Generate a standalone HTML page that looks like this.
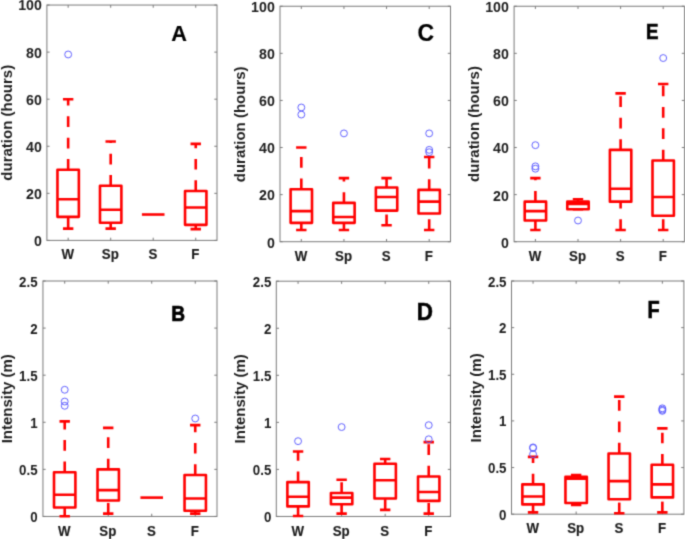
<!DOCTYPE html>
<html lang="en"><head><meta charset="utf-8"><title>Box plots</title>
<style>
html,body{margin:0;padding:0;background:#fff;}
svg{display:block;}
text{font-family:"Liberation Sans",sans-serif;font-weight:bold;}
.t{font-size:14.2px;fill:#1c1c1c;}
.t2{font-size:13.3px;fill:#1c1c1c;}
.c{font-size:13.3px;fill:#1c1c1c;stroke:#1c1c1c;stroke-width:0.15;}
.yl{font-size:15px;fill:#1c1c1c;}
.L{fill:#000;}
.ax{fill:none;stroke:#7a7a7a;stroke-width:1;}
.bx{fill:none;stroke:#ff0000;stroke-width:2.6;stroke-linejoin:round;}
.wh{fill:none;stroke:#ff0000;stroke-width:2.6;stroke-dasharray:10.7 10.7;}
.cp{fill:none;stroke:#ff0000;stroke-width:2.6;}
.o{fill:none;stroke:#5a5aff;stroke-width:0.95;}
</style></head>
<body>
<svg width="685" height="539" viewBox="0 0 685 539">
<rect width="685" height="539" fill="#fff"/>
<defs><filter id="soft" x="0" y="0" width="685" height="539" filterUnits="userSpaceOnUse" color-interpolation-filters="sRGB"><feConvolveMatrix order="3" kernelMatrix="0.0256 0.1088 0.0256 0.1088 0.4624 0.1088 0.0256 0.1088 0.0256" edgeMode="none" preserveAlpha="false"/></filter></defs>
<g id="fig" filter="url(#soft)">
<g id="panel-A">
<rect class="ax" x="46.9" y="5.05" width="170.1" height="235.35"/>
<path class="ax" d="M46.9 240.4h2.7M217 240.4h-2.7M46.9 193.33h2.7M217 193.33h-2.7M46.9 146.26h2.7M217 146.26h-2.7M46.9 99.19h2.7M217 99.19h-2.7M46.9 52.12h2.7M217 52.12h-2.7M46.9 5.05h2.7M217 5.05h-2.7M68.16 240.4v-2.7M68.16 5.05v2.7M110.69 240.4v-2.7M110.69 5.05v2.7M153.21 240.4v-2.7M153.21 5.05v2.7M195.74 240.4v-2.7M195.74 5.05v2.7"/>
<text class="t" transform="translate(41.9 246.3) scale(1 1.08)" text-anchor="end">0</text>
<text class="t" transform="translate(41.9 199.11) scale(1 1.08)" text-anchor="end">20</text>
<text class="t" transform="translate(41.9 151.92) scale(1 1.08)" text-anchor="end">40</text>
<text class="t" transform="translate(41.9 104.73) scale(1 1.08)" text-anchor="end">60</text>
<text class="t" transform="translate(41.9 57.54) scale(1 1.08)" text-anchor="end">80</text>
<text class="t" transform="translate(41.9 10.35) scale(1 1.08)" text-anchor="end">100</text>
<text class="c" transform="translate(67.76 259.2) scale(1 1.06)" text-anchor="middle">W</text>
<text class="c" transform="translate(110.29 259.2) scale(1 1.06)" text-anchor="middle">Sp</text>
<text class="c" transform="translate(152.81 259.2) scale(1 1.06)" text-anchor="middle">S</text>
<text class="c" transform="translate(195.34 259.2) scale(1 1.06)" text-anchor="middle">F</text>
<text class="yl" transform="translate(12.2 122.73) rotate(-90)" text-anchor="middle">duration (hours)</text>
<text class="L" transform="translate(179.2 41) scale(1 1)" text-anchor="middle" font-size="21.7" stroke="#000" stroke-width="0.2">A</text>
<path class="wh" d="M68.16 169.8V99.19"/>
<path class="wh" d="M68.16 228.63V216.87"/>
<path class="cp" d="M62.96 99.19h10.4M62.96 228.63h10.4"/>
<path class="bx" d="M57.46 216.87H78.86V169.8H57.46ZM57.46 199.21H78.86"/>
<circle class="o" cx="68.16" cy="54.47" r="3.45"/>
<path class="wh" d="M110.69 185.8V141.55"/>
<path class="wh" d="M110.69 228.63V222.75"/>
<path class="cp" d="M105.49 141.55h10.4M105.49 228.63h10.4"/>
<path class="bx" d="M99.99 222.75H121.39V185.8H99.99ZM99.99 209.8H121.39"/>
<path class="cp" d="M141.91 214.51h22.6"/>
<path class="wh" d="M195.74 190.98V143.91"/>
<path class="wh" d="M195.74 229.1V224.87"/>
<path class="cp" d="M190.54 143.91h10.4M190.54 229.1h10.4"/>
<path class="bx" d="M185.04 224.87H206.44V190.98H185.04ZM185.04 207.45H206.44"/>
</g>
<g id="panel-C">
<rect class="ax" x="280" y="6.25" width="170.5" height="235.45"/>
<path class="ax" d="M280 241.7h2.7M450.5 241.7h-2.7M280 194.61h2.7M450.5 194.61h-2.7M280 147.52h2.7M450.5 147.52h-2.7M280 100.43h2.7M450.5 100.43h-2.7M280 53.34h2.7M450.5 53.34h-2.7M280 6.25h2.7M450.5 6.25h-2.7M301.31 241.7v-2.7M301.31 6.25v2.7M343.94 241.7v-2.7M343.94 6.25v2.7M386.56 241.7v-2.7M386.56 6.25v2.7M429.19 241.7v-2.7M429.19 6.25v2.7"/>
<text class="t" transform="translate(274.8 247.7) scale(1 1.08)" text-anchor="end">0</text>
<text class="t" transform="translate(274.8 200.49) scale(1 1.08)" text-anchor="end">20</text>
<text class="t" transform="translate(274.8 153.28) scale(1 1.08)" text-anchor="end">40</text>
<text class="t" transform="translate(274.8 106.07) scale(1 1.08)" text-anchor="end">60</text>
<text class="t" transform="translate(274.8 58.86) scale(1 1.08)" text-anchor="end">80</text>
<text class="t" transform="translate(274.8 11.65) scale(1 1.08)" text-anchor="end">100</text>
<text class="c" transform="translate(300.91 260.8) scale(1 1.06)" text-anchor="middle">W</text>
<text class="c" transform="translate(343.54 260.8) scale(1 1.06)" text-anchor="middle">Sp</text>
<text class="c" transform="translate(386.16 260.8) scale(1 1.06)" text-anchor="middle">S</text>
<text class="c" transform="translate(428.79 260.8) scale(1 1.06)" text-anchor="middle">F</text>
<text class="yl" transform="translate(245.4 124.3) rotate(-90)" text-anchor="middle">duration (hours)</text>
<text class="L" transform="translate(425.75 40.7) scale(1 1)" text-anchor="middle" font-size="23" stroke="#000" stroke-width="0.2">C</text>
<path class="wh" d="M301.31 189.19V147.52"/>
<path class="wh" d="M301.31 229.93V222.86"/>
<path class="cp" d="M296.11 147.52h10.4M296.11 229.93h10.4"/>
<path class="bx" d="M290.61 222.86H312.01V189.19H290.61ZM290.61 211.09H312.01"/>
<circle class="o" cx="301.31" cy="114.56" r="3.45"/>
<circle class="o" cx="301.31" cy="107.49" r="3.45"/>
<path class="wh" d="M343.94 202.85V178.13"/>
<path class="wh" d="M343.94 229.93V222.86"/>
<path class="cp" d="M338.74 178.13h10.4M338.74 229.93h10.4"/>
<path class="bx" d="M333.24 222.86H354.64V202.85H333.24ZM333.24 216.98H354.64"/>
<circle class="o" cx="343.94" cy="133.39" r="3.45"/>
<path class="wh" d="M386.56 187.55V178.13"/>
<path class="wh" d="M386.56 225.22V210.62"/>
<path class="cp" d="M381.36 178.13h10.4M381.36 225.22h10.4"/>
<path class="bx" d="M375.86 210.62H397.26V187.55H375.86ZM375.86 196.96H397.26"/>
<path class="wh" d="M429.19 189.9V156.94"/>
<path class="wh" d="M429.19 229.93V213.45"/>
<path class="cp" d="M423.99 156.94h10.4M423.99 229.93h10.4"/>
<path class="bx" d="M418.49 213.45H439.89V189.9H418.49ZM418.49 201.67H439.89"/>
<circle class="o" cx="429.19" cy="152.23" r="3.45"/>
<circle class="o" cx="429.19" cy="149.87" r="3.45"/>
<circle class="o" cx="429.19" cy="133.39" r="3.45"/>
</g>
<g id="panel-E">
<rect class="ax" x="514.1" y="6.25" width="170.4" height="235.45"/>
<path class="ax" d="M514.1 241.7h2.7M684.5 241.7h-2.7M514.1 194.61h2.7M684.5 194.61h-2.7M514.1 147.52h2.7M684.5 147.52h-2.7M514.1 100.43h2.7M684.5 100.43h-2.7M514.1 53.34h2.7M684.5 53.34h-2.7M514.1 6.25h2.7M684.5 6.25h-2.7M535.4 241.7v-2.7M535.4 6.25v2.7M578 241.7v-2.7M578 6.25v2.7M620.6 241.7v-2.7M620.6 6.25v2.7M663.2 241.7v-2.7M663.2 6.25v2.7"/>
<text class="t" transform="translate(508.9 247.8) scale(1 1.08)" text-anchor="end">0</text>
<text class="t" transform="translate(508.9 200.57) scale(1 1.08)" text-anchor="end">20</text>
<text class="t" transform="translate(508.9 153.34) scale(1 1.08)" text-anchor="end">40</text>
<text class="t" transform="translate(508.9 106.11) scale(1 1.08)" text-anchor="end">60</text>
<text class="t" transform="translate(508.9 58.88) scale(1 1.08)" text-anchor="end">80</text>
<text class="t" transform="translate(508.9 11.65) scale(1 1.08)" text-anchor="end">100</text>
<text class="c" transform="translate(535 260.5) scale(1 1.06)" text-anchor="middle">W</text>
<text class="c" transform="translate(577.6 260.5) scale(1 1.06)" text-anchor="middle">Sp</text>
<text class="c" transform="translate(620.2 260.5) scale(1 1.06)" text-anchor="middle">S</text>
<text class="c" transform="translate(662.8 260.5) scale(1 1.06)" text-anchor="middle">F</text>
<text class="yl" transform="translate(479.4 123.97) rotate(-90)" text-anchor="middle">duration (hours)</text>
<text class="L" transform="translate(652.3 39) scale(0.84 1)" text-anchor="middle" font-size="22.3" stroke="#000" stroke-width="0.7">E</text>
<path class="wh" d="M535.4 201.67V178.13"/>
<path class="wh" d="M535.4 229.93V220.51"/>
<path class="cp" d="M530.2 178.13h10.4M530.2 229.93h10.4"/>
<path class="bx" d="M524.7 220.51H546.1V201.67H524.7ZM524.7 211.09H546.1"/>
<circle class="o" cx="535.4" cy="168.71" r="3.45"/>
<circle class="o" cx="535.4" cy="166.36" r="3.45"/>
<circle class="o" cx="535.4" cy="145.17" r="3.45"/>
<path class="wh" d="M578 201.67V199.32"/>
<path class="wh" d="M578 209.21V209.21"/>
<path class="cp" d="M572.8 199.32h10.4M572.8 209.21h10.4"/>
<path class="bx" d="M567.3 209.21H588.7V201.67H567.3ZM567.3 204.03H588.7"/>
<circle class="o" cx="578" cy="220.51" r="3.45"/>
<path class="wh" d="M620.6 149.87V93.37"/>
<path class="wh" d="M620.6 229.93V201.67"/>
<path class="cp" d="M615.4 93.37h10.4M615.4 229.93h10.4"/>
<path class="bx" d="M609.9 201.67H631.3V149.87H609.9ZM609.9 188.72H631.3"/>
<path class="wh" d="M663.2 160.47V83.95"/>
<path class="wh" d="M663.2 229.93V215.8"/>
<path class="cp" d="M658 83.95h10.4M658 229.93h10.4"/>
<path class="bx" d="M652.5 215.8H673.9V160.47H652.5ZM652.5 196.96H673.9"/>
<circle class="o" cx="663.2" cy="58.05" r="3.45"/>
</g>
<g id="panel-B">
<rect class="ax" x="42.95" y="281" width="174.05" height="235.45"/>
<path class="ax" d="M42.95 516.45h2.7M217 516.45h-2.7M42.95 469.36h2.7M217 469.36h-2.7M42.95 422.27h2.7M217 422.27h-2.7M42.95 375.18h2.7M217 375.18h-2.7M42.95 328.09h2.7M217 328.09h-2.7M42.95 281h2.7M217 281h-2.7M64.71 516.45v-2.7M64.71 281v2.7M108.22 516.45v-2.7M108.22 281v2.7M151.73 516.45v-2.7M151.73 281v2.7M195.24 516.45v-2.7M195.24 281v2.7"/>
<text class="t2" transform="translate(37.55 521.95) scale(1 1.1)" text-anchor="end">0</text>
<text class="t2" transform="translate(37.55 474.86) scale(1 1.1)" text-anchor="end">0.5</text>
<text class="t2" transform="translate(37.55 427.77) scale(1 1.1)" text-anchor="end">1</text>
<text class="t2" transform="translate(37.55 380.68) scale(1 1.1)" text-anchor="end">1.5</text>
<text class="t2" transform="translate(37.55 333.59) scale(1 1.1)" text-anchor="end">2</text>
<text class="t2" transform="translate(37.55 286.5) scale(1 1.1)" text-anchor="end">2.5</text>
<text class="c" transform="translate(64.31 535.75) scale(1 1.06)" text-anchor="middle">W</text>
<text class="c" transform="translate(107.82 535.75) scale(1 1.06)" text-anchor="middle">Sp</text>
<text class="c" transform="translate(151.33 535.75) scale(1 1.06)" text-anchor="middle">S</text>
<text class="c" transform="translate(194.84 535.75) scale(1 1.06)" text-anchor="middle">F</text>
<text class="yl" transform="translate(11.8 398.73) rotate(-90)" text-anchor="middle">Intensity (m)</text>
<text class="L" transform="translate(178.05 321) scale(0.84 1)" text-anchor="middle" font-size="22.8" stroke="#000" stroke-width="0.7">B</text>
<path class="wh" d="M64.71 472.19V421.33"/>
<path class="wh" d="M64.71 516.26V507.5"/>
<path class="cp" d="M59.51 421.33h10.4M59.51 516.26h10.4"/>
<path class="bx" d="M54.01 507.5H75.41V472.19H54.01ZM54.01 494.79H75.41"/>
<circle class="o" cx="64.71" cy="405.79" r="3.45"/>
<circle class="o" cx="64.71" cy="401.55" r="3.45"/>
<circle class="o" cx="64.71" cy="389.78" r="3.45"/>
<path class="wh" d="M108.22 469.36V427.92"/>
<path class="wh" d="M108.22 513.62V500.44"/>
<path class="cp" d="M103.02 427.92h10.4M103.02 513.62h10.4"/>
<path class="bx" d="M97.52 500.44H118.92V469.36H97.52ZM97.52 490.08H118.92"/>
<path class="cp" d="M140.43 497.61h22.6"/>
<path class="wh" d="M195.24 475.01V425.1"/>
<path class="wh" d="M195.24 513.62V510.8"/>
<path class="cp" d="M190.04 425.1h10.4M190.04 513.62h10.4"/>
<path class="bx" d="M184.54 510.8H205.94V475.01H184.54ZM184.54 498.56H205.94"/>
<circle class="o" cx="195.24" cy="418.5" r="3.45"/>
</g>
<g id="panel-D">
<rect class="ax" x="276.3" y="281.2" width="174.2" height="235.25"/>
<path class="ax" d="M276.3 516.45h2.7M450.5 516.45h-2.7M276.3 469.4h2.7M450.5 469.4h-2.7M276.3 422.35h2.7M450.5 422.35h-2.7M276.3 375.3h2.7M450.5 375.3h-2.7M276.3 328.25h2.7M450.5 328.25h-2.7M276.3 281.2h2.7M450.5 281.2h-2.7M298.07 516.45v-2.7M298.07 281.2v2.7M341.62 516.45v-2.7M341.62 281.2v2.7M385.18 516.45v-2.7M385.18 281.2v2.7M428.73 516.45v-2.7M428.73 281.2v2.7"/>
<text class="t2" transform="translate(271.3 522.15) scale(1 1.1)" text-anchor="end">0</text>
<text class="t2" transform="translate(271.3 475.06) scale(1 1.1)" text-anchor="end">0.5</text>
<text class="t2" transform="translate(271.3 427.97) scale(1 1.1)" text-anchor="end">1</text>
<text class="t2" transform="translate(271.3 380.88) scale(1 1.1)" text-anchor="end">1.5</text>
<text class="t2" transform="translate(271.3 333.79) scale(1 1.1)" text-anchor="end">2</text>
<text class="t2" transform="translate(271.3 286.7) scale(1 1.1)" text-anchor="end">2.5</text>
<text class="c" transform="translate(297.68 535.75) scale(1 1.06)" text-anchor="middle">W</text>
<text class="c" transform="translate(341.23 535.75) scale(1 1.06)" text-anchor="middle">Sp</text>
<text class="c" transform="translate(384.78 535.75) scale(1 1.06)" text-anchor="middle">S</text>
<text class="c" transform="translate(428.33 535.75) scale(1 1.06)" text-anchor="middle">F</text>
<text class="yl" transform="translate(244.7 398.83) rotate(-90)" text-anchor="middle">Intensity (m)</text>
<text class="L" transform="translate(424.85 319.7) scale(0.94 1)" text-anchor="middle" font-size="23.9" stroke="#000" stroke-width="0.5">D</text>
<path class="wh" d="M298.07 482.1V451.52"/>
<path class="wh" d="M298.07 515.98V506.38"/>
<path class="cp" d="M292.88 451.52h10.4M292.88 515.98h10.4"/>
<path class="bx" d="M287.38 506.38H308.77V482.1H287.38ZM287.38 496.69H308.77"/>
<circle class="o" cx="298.07" cy="441.17" r="3.45"/>
<path class="wh" d="M341.62 492.93V479.75"/>
<path class="wh" d="M341.62 513.63V504.22"/>
<path class="cp" d="M336.43 479.75h10.4M336.43 513.63h10.4"/>
<path class="bx" d="M330.93 504.22H352.32V492.93H330.93ZM330.93 497.63H352.32"/>
<circle class="o" cx="341.62" cy="427.06" r="3.45"/>
<path class="wh" d="M385.18 463.75V459.05"/>
<path class="wh" d="M385.18 509.86V498.57"/>
<path class="cp" d="M379.98 459.05h10.4M379.98 509.86h10.4"/>
<path class="bx" d="M374.48 498.57H395.88V463.75H374.48ZM374.48 480.22H395.88"/>
<path class="wh" d="M428.73 476.46V442.11"/>
<path class="wh" d="M428.73 513.63V500.92"/>
<path class="cp" d="M423.53 442.11h10.4M423.53 513.63h10.4"/>
<path class="bx" d="M418.03 500.92H439.43V476.46H418.03ZM418.03 491.98H439.43"/>
<circle class="o" cx="428.73" cy="439.29" r="3.45"/>
<circle class="o" cx="428.73" cy="425.17" r="3.45"/>
</g>
<g id="panel-F">
<rect class="ax" x="511.5" y="281" width="172.4" height="233.2"/>
<path class="ax" d="M511.5 514.2h2.7M683.9 514.2h-2.7M511.5 467.56h2.7M683.9 467.56h-2.7M511.5 420.92h2.7M683.9 420.92h-2.7M511.5 374.28h2.7M683.9 374.28h-2.7M511.5 327.64h2.7M683.9 327.64h-2.7M511.5 281h2.7M683.9 281h-2.7M533.05 514.2v-2.7M533.05 281v2.7M576.15 514.2v-2.7M576.15 281v2.7M619.25 514.2v-2.7M619.25 281v2.7M662.35 514.2v-2.7M662.35 281v2.7"/>
<text class="t2" transform="translate(506.5 519.8) scale(1 1.1)" text-anchor="end">0</text>
<text class="t2" transform="translate(506.5 473.14) scale(1 1.1)" text-anchor="end">0.5</text>
<text class="t2" transform="translate(506.5 426.48) scale(1 1.1)" text-anchor="end">1</text>
<text class="t2" transform="translate(506.5 379.82) scale(1 1.1)" text-anchor="end">1.5</text>
<text class="t2" transform="translate(506.5 333.16) scale(1 1.1)" text-anchor="end">2</text>
<text class="t2" transform="translate(506.5 286.5) scale(1 1.1)" text-anchor="end">2.5</text>
<text class="c" transform="translate(532.65 533) scale(1 1.06)" text-anchor="middle">W</text>
<text class="c" transform="translate(575.75 533) scale(1 1.06)" text-anchor="middle">Sp</text>
<text class="c" transform="translate(618.85 533) scale(1 1.06)" text-anchor="middle">S</text>
<text class="c" transform="translate(661.95 533) scale(1 1.06)" text-anchor="middle">F</text>
<text class="yl" transform="translate(480.7 397.9) rotate(-90)" text-anchor="middle">Intensity (m)</text>
<text class="L" transform="translate(653.5 317.5) scale(0.84 1)" text-anchor="middle" font-size="23.7" stroke="#000" stroke-width="0.7">F</text>
<path class="wh" d="M533.05 484.35V456.83"/>
<path class="wh" d="M533.05 512.33V504.41"/>
<path class="cp" d="M527.85 456.83h10.4M527.85 512.33h10.4"/>
<path class="bx" d="M522.35 504.41H543.75V484.35H522.35ZM522.35 496.48H543.75"/>
<circle class="o" cx="533.05" cy="454.22" r="3.45"/>
<circle class="o" cx="533.05" cy="447.97" r="3.45"/>
<circle class="o" cx="533.05" cy="447.41" r="3.45"/>
<path class="wh" d="M576.15 476.89V475.02"/>
<path class="wh" d="M576.15 504.87V503.01"/>
<path class="cp" d="M570.95 475.02h10.4M570.95 504.87h10.4"/>
<path class="bx" d="M565.45 503.01H586.85V476.89H565.45ZM565.45 478.75H586.85"/>
<path class="wh" d="M619.25 453.57V396.67"/>
<path class="wh" d="M619.25 513.27V499.28"/>
<path class="cp" d="M614.05 396.67h10.4M614.05 513.27h10.4"/>
<path class="bx" d="M608.55 499.28H629.95V453.57H608.55ZM608.55 481.09H629.95"/>
<path class="wh" d="M662.35 464.76V428.38"/>
<path class="wh" d="M662.35 512.33V497.41"/>
<path class="cp" d="M657.15 428.38h10.4M657.15 512.33h10.4"/>
<path class="bx" d="M651.65 497.41H673.05V464.76H651.65ZM651.65 484.35H673.05"/>
<circle class="o" cx="662.35" cy="410.85" r="3.45"/>
<circle class="o" cx="662.35" cy="409.73" r="3.45"/>
<circle class="o" cx="662.35" cy="408.33" r="3.45"/>
</g>
</g>
</svg>
</body></html>
